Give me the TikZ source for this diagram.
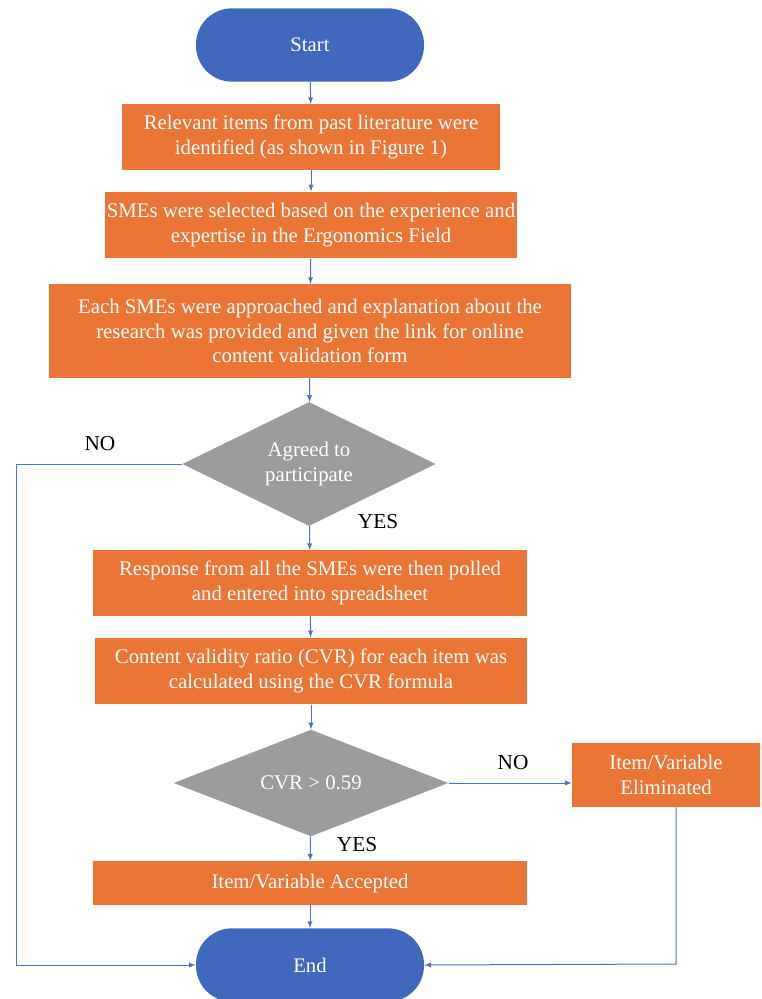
\documentclass[tikz,border=0pt]{standalone}
\usepackage{fontspec}
\setmainfont{Liberation Serif}
\usetikzlibrary{shapes.geometric}
\definecolor{termblue}{HTML}{4068BC}
\definecolor{stepbox}{HTML}{EA7537}
\definecolor{decgray}{HTML}{9C9C9C}
\definecolor{linkblue}{HTML}{4A74C4}
\begin{document}
\begin{tikzpicture}[x=0.75pt, y=-0.75pt,
		term/.style={fill=termblue, text=white, rounded corners=27pt, minimum width=171pt, minimum height=55pt, font=\fontsize{15.5}{18}\selectfont},
		proc/.style={fill=stepbox, text=white, align=center, inner sep=0pt, font=\fontsize{15.6}{18.6}\selectfont},
		decide/.style={diamond, fill=decgray, text=white, align=center, aspect=2, inner sep=0pt, font=\fontsize{15.6}{18.6}\selectfont},
		link/.style={draw=linkblue, line width=0.75pt, -latex},
		lbl/.style={font=\fontsize{16}{18}\selectfont}]
		\useasboundingbox (0,0) rectangle (761,999);

		\node[term] (start) at (310,45) {Start};
		\node[proc, minimum width=283pt, minimum height=49pt] (items) at (311,137) {Relevant items from past literature were\\identified (as shown in Figure 1)};
		\node[proc, minimum width=309pt, minimum height=50pt] (smes) at (311,225) {SMEs were selected based on the experience and\\expertise in the Ergonomics Field};
		\node[proc, minimum width=391pt, minimum height=70pt] (approach) at (310,331) {Each SMEs were approached and explanation about the\\research was provided and given the link for online\\content validation form};
		\node[decide, minimum width=190pt, minimum height=93pt] (agree) at (309,464) {Agreed to\\participate};
		\node[proc, minimum width=325pt, minimum height=49pt] (poll) at (310,583) {Response from all the SMEs were then polled\\and entered into spreadsheet};
		\node[proc, minimum width=324pt, minimum height=50pt] (cvr) at (311,671) {Content validity ratio (CVR) for each item was\\calculated using the CVR formula};
		\node[decide, minimum width=206pt, minimum height=80pt] (check) at (311,783) {CVR > 0.59};
		\node[proc, minimum width=141pt, minimum height=48pt] (elim) at (666,775) {Item/Variable\\Eliminated};
		\node[proc, minimum width=325pt, minimum height=33pt] (accept) at (310,883) {Item/Variable Accepted};
		\node[term] (end) at (310,965) {End};

		\coordinate (leftturn) at (16,464);
		\coordinate (rightturn) at (676,964);

		\node[lbl] (no1) at (100,444) {NO};
		\node[lbl] (yes1) at (378,522) {YES};
		\node[lbl] (no2) at (513,763) {NO};
		\node[lbl] (yes2) at (357,845) {YES};

		\draw[link] (start) -- (items);
		\draw[link] (items) -- (smes);
		\draw[link] (smes) -- (approach);
		\draw[link] (approach) -- (agree);
		\draw[link] (agree) -- (poll);
		\draw[link] (poll) -- (cvr);
		\draw[link] (cvr) -- (check);
		\draw[link] (check) -- (accept);
		\draw[link] (accept) -- (end);
		\draw[link] (check.east) -- (check.east -| elim.west);
		\draw[link] (agree.west) -- (leftturn) |- (end.west);
		\draw[link] (elim.south -| rightturn) -- (rightturn) -- (end.east);
	\end{tikzpicture}
\end{document}
